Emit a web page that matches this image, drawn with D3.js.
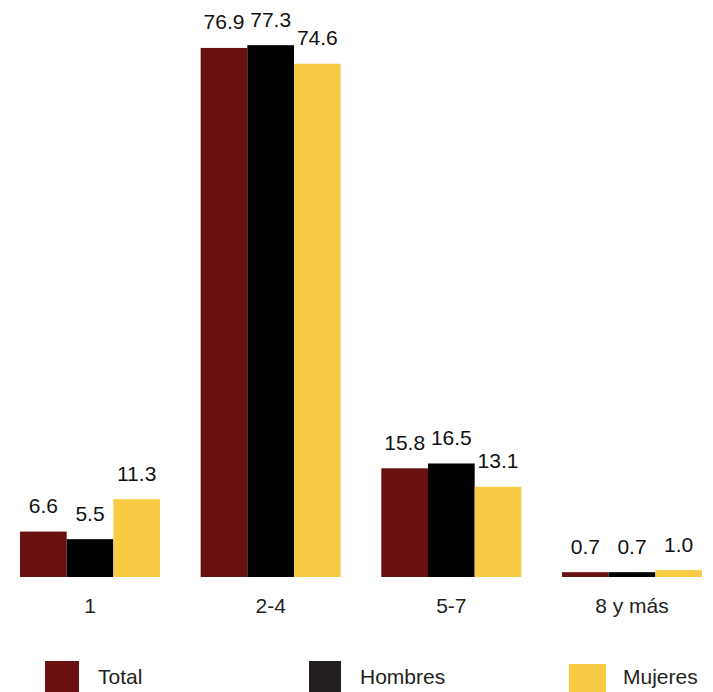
<!DOCTYPE html>
<html>
<head>
<meta charset="utf-8">
<script src="https://cdn.jsdelivr.net/npm/d3@7"></script>
<style>
  html, body { margin: 0; padding: 0; background: #fff; }
  svg { display: block; font-family: "Liberation Sans", Arial, Helvetica, sans-serif; }
</style>
</head>
<body>
<svg id="chart" width="713" height="692"></svg>
<script>
const categories = ["1", "2-4", "5-7", "8 y más"];
const seriesNames = ["Total", "Hombres", "Mujeres"];
const totalValues = [6.6, 76.9, 15.8, 0.7];
const hombresValues = [5.5, 77.3, 16.5, 0.7];
const mujeresValues = [11.3, 74.6, 13.1, 1.0];
const valueLabels = {
  Total: ["6.6", "76.9", "15.8", "0.7"],
  Hombres: ["5.5", "77.3", "16.5", "0.7"],
  Mujeres: ["11.3", "74.6", "13.1", "1.0"]
};

const barColors = { Total: "#6a1010", Hombres: "#000000", Mujeres: "#f9cb45" };
const legendColors = { Total: "#6a1010", Hombres: "#231f20", Mujeres: "#f9cb45" };

const seriesValues = { Total: totalValues, Hombres: hombresValues, Mujeres: mujeresValues };
const data = categories.map((c, i) => ({
  category: c,
  values: seriesNames.map(s => ({ series: s, value: seriesValues[s][i], label: valueLabels[s][i] }))
}));

const svg = d3.select("#chart");

const x0 = d3.scaleBand().domain(categories).range([20, 702]).paddingInner(0.225).paddingOuter(0);
const x1 = d3.scaleBand().domain(seriesNames).range([0, x0.bandwidth()]).padding(0);
const baseline = 577;
const y = d3.scaleLinear().domain([0, 80]).range([baseline, baseline - 80 * 6.88]);

const groups = svg.append("g").selectAll("g")
  .data(data).join("g")
  .attr("transform", d => `translate(${x0(d.category)},0)`);

groups.selectAll("rect")
  .data(d => d.values).join("rect")
  .attr("x", d => x1(d.series))
  .attr("y", d => y(d.value))
  .attr("width", x1.bandwidth())
  .attr("height", d => y(0) - y(d.value))
  .attr("fill", d => barColors[d.series]);

groups.selectAll("text.val")
  .data(d => d.values).join("text")
  .attr("class", "val")
  .attr("x", d => x1(d.series) + x1.bandwidth() / 2)
  .attr("y", d => y(d.value) - 18.5)
  .attr("text-anchor", "middle")
  .attr("font-size", 21)
  .attr("fill", "#111")
  .text(d => d.label);

// Category axis (no line, labels only)
const xAxis = d3.axisBottom(x0).tickSize(0).tickPadding(0);
const axisG = svg.append("g").attr("transform", `translate(0,${baseline})`).call(xAxis);
axisG.select(".domain").remove();
axisG.selectAll("text")
  .attr("font-size", 21)
  .attr("font-family", "Liberation Sans, Arial, sans-serif")
  .attr("fill", "#231f20")
  .attr("dy", null)
  .attr("y", 36);

// Legend
const legendPos = [
  { name: "Total", sx: 45, sy: 661, sw: 34, tx: 98 },
  { name: "Hombres", sx: 309, sy: 661, sw: 32, tx: 360 },
  { name: "Mujeres", sx: 569, sy: 664, sw: 37, tx: 623 }
];
const legend = svg.append("g");
legend.selectAll("rect").data(legendPos).join("rect")
  .attr("x", d => d.sx).attr("y", d => d.sy)
  .attr("width", d => d.sw).attr("height", 40)
  .attr("fill", d => legendColors[d.name]);
legend.selectAll("text").data(legendPos).join("text")
  .attr("x", d => d.tx).attr("y", 684)
  .attr("font-size", 21)
  .attr("fill", "#231f20")
  .text(d => d.name);
</script>
</body>
</html>
